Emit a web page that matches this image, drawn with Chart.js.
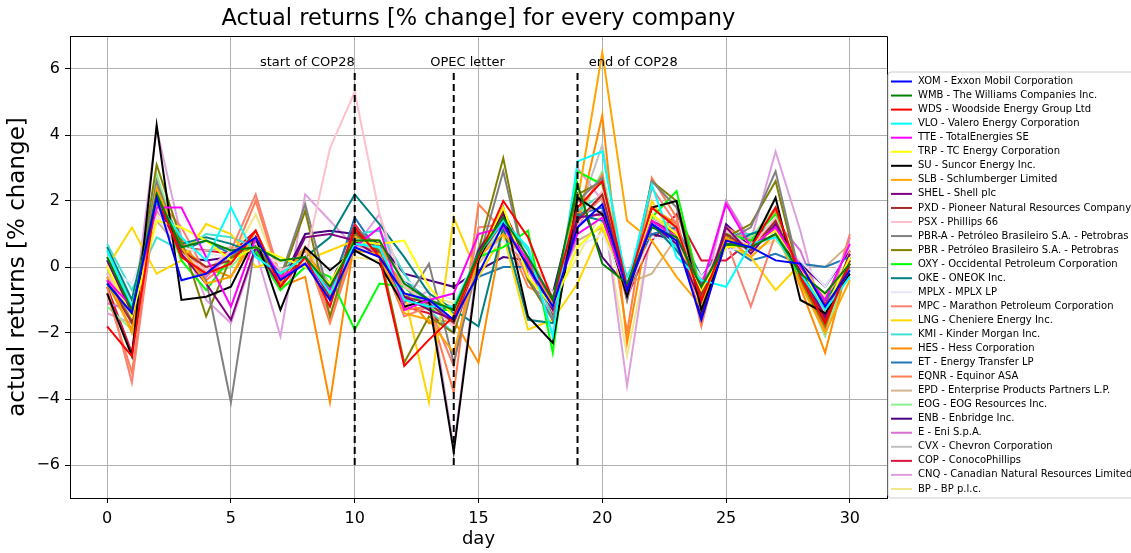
<!DOCTYPE html>
<html lang="en">
<head>
<meta charset="utf-8">
<script src="https://cdn.jsdelivr.net/npm/chart.js"></script>
<style>
  body { margin: 0; background: #fff; }
  #wrap { width: 1131px; height: 553px; }
</style>
</head>
<body>
<div id="wrap"><canvas id="myChart" width="1131" height="553"></canvas></div>
<script>
// --- data ---
const days = [0,1,2,3,4,5,6,7,8,9,10,11,12,13,14,15,16,17,18,19,20,21,22,23,24,25,26,27,28,29,30];
const xTicks = [0, 5, 10, 15, 20, 25, 30];
const yTicks = [-6, -4, -2, 0, 2, 4, 6];

const eventDays = [10, 14, 19];
const eventLabels = ['start of COP28', 'OPEC letter', 'end of COP28'];

const tickers = ['XOM','WMB','WDS','VLO','TTE','TRP','SU','SLB','SHEL','PXD','PSX','PBR-A','PBR','OXY','OKE',
  'MPLX','MPC','LNG','KMI','HES','ET','EQNR','EPD','EOG','ENB','E','CVX','COP','CNQ','BP'];
const names = ['Exxon Mobil Corporation','The Williams Companies Inc.','Woodside Energy Group Ltd','Valero Energy Corporation',
  'TotalEnergies SE','TC Energy Corporation','Suncor Energy Inc.','Schlumberger Limited','Shell plc',
  'Pioneer Natural Resources Company','Phillips 66','Petróleo Brasileiro S.A. - Petrobras','Petróleo Brasileiro S.A. - Petrobras',
  'Occidental Petroleum Corporation','ONEOK Inc.','MPLX LP','Marathon Petroleum Corporation','Cheniere Energy Inc.',
  'Kinder Morgan Inc.','Hess Corporation','Energy Transfer LP','Equinor ASA','Enterprise Products Partners L.P.',
  'EOG Resources Inc.','Enbridge Inc.','Eni S.p.A.','Chevron Corporation','ConocoPhillips',
  'Canadian Natural Resources Limited','BP p.l.c.'];
const colors = ['#0000ff','#008000','#ff0000','#00ffff','#ff00ff','#ffff00','#000000','#ffa500','#800080','#a52a2a',
  '#ffc0cb','#808080','#808000','#00ff00','#008080','#e6e6fa','#fa8072','#ffd700','#40e0d0','#ff8c00',
  '#1f77b4','#ff7f50','#d2b48c','#90ee90','#4b0082','#da70d6','#c0c0c0','#dc143c','#dda0dd','#f0e68c'];

const XOM  = [-0.5,-1.4,2.1,-0.4,-0.2,0.4,0.9,-0.4,0.1,-1.0,0.6,0.3,-0.8,-1.0,-1.6,-0.2,1.3,0.0,-1.2,1.2,1.9,-0.7,1.3,0.8,-1.6,0.8,0.6,0.2,0.1,-1.2,-0.1];
const WMB  = [0.3,-1.3,2.2,0.6,0.8,0.5,0.6,0.2,0.3,-0.6,0.8,0.8,-0.5,-1.0,-1.3,0.4,1.5,0.3,-1.0,2.5,0.1,-0.5,1.2,0.9,-0.6,0.7,0.6,1.0,-0.2,-0.8,0.1];
const WDS  = [-1.8,-2.7,2.2,0.3,-0.2,0.1,1.1,-0.6,0.3,-1.2,1.2,0.3,-3.0,-2.2,-1.5,0.3,2.0,0.9,-1.0,1.8,2.6,-0.6,1.8,1.2,-1.0,0.8,0.6,1.8,-0.3,-1.7,0.1];
const VLO  = [0.5,-1.2,2.0,0.9,0.2,1.8,0.3,-0.2,0.3,-0.8,0.7,0.6,-1.0,-1.2,-1.2,0.4,1.4,0.6,-2.1,3.2,3.5,-0.6,2.5,0.3,-0.4,-0.6,0.7,0.9,-0.2,-1.3,-0.3];
const TTE  = [-0.4,-1.2,1.8,1.8,0.3,-1.2,0.9,-0.3,0.1,-0.7,0.6,1.2,-1.3,-1.0,-0.8,1.0,1.2,0.2,-1.0,1.0,1.5,-0.7,1.4,0.9,-0.6,1.9,0.6,1.2,0.0,-1.0,0.7];
const TRP  = [0.0,-1.5,1.4,1.2,0.8,0.2,0.6,0.3,0.0,-0.5,0.8,0.7,0.8,-0.6,-1.5,0.3,1.8,-0.3,-1.2,0.6,1.3,-0.6,1.6,1.0,-0.7,0.6,0.7,1.1,0.0,-1.3,0.3];
const SU   = [-0.8,-2.7,4.3,-1.0,-0.9,-0.6,0.9,-1.3,0.6,-0.1,0.5,0.1,-1.2,-1.0,-5.6,0.2,1.8,-1.5,-2.3,2.1,1.6,-0.9,1.8,2.0,-1.3,0.7,0.6,2.1,-1.0,-1.4,-0.2];
const SLB  = [-0.3,-2.0,2.4,0.6,-0.5,-0.3,1.1,-0.5,0.6,-0.8,0.5,0.4,-1.4,-1.6,-2.6,0.3,1.0,0.2,-1.1,2.0,6.5,1.4,0.8,-0.3,-1.2,0.9,0.3,1.0,-0.5,-2.0,-0.4];
const SHEL = [0.2,-1.4,2.0,0.4,-0.5,-1.6,0.6,-0.6,0.9,1.0,0.8,0.3,-0.9,-1.3,-1.6,0.5,1.6,0.0,-1.3,1.5,1.6,-0.8,1.3,0.7,-1.1,1.2,0.4,1.3,-0.1,-1.5,0.4];
const PXD  = [-0.4,-1.7,2.1,0.5,0.0,0.2,0.9,-0.4,0.3,-0.9,1.1,0.4,-0.9,-1.1,-1.7,0.3,1.4,0.1,-1.2,1.4,2.2,-0.7,1.4,1.0,-0.8,1.0,0.5,1.4,-0.2,-1.6,0.2];
const PSX  = [-0.2,-1.5,1.8,0.4,-0.1,0.5,0.7,-0.1,0.2,3.6,5.3,1.6,-0.6,-1.1,-1.8,0.3,1.5,0.2,-1.3,1.3,2.3,-0.9,1.6,0.9,-0.7,1.1,0.6,1.5,-0.3,-1.4,0.3];
const PBR_A = [-0.2,-1.6,2.6,0.5,-0.4,-4.1,0.8,-0.3,1.9,-1.0,1.2,0.6,-1.1,0.1,-2.9,0.2,2.9,-0.3,-1.6,2.0,2.7,-1.0,2.6,1.8,-1.0,0.8,1.2,2.9,-0.3,-1.6,0.3];
const PBR  = [-0.3,-1.6,3.1,0.8,-1.5,0.3,0.7,-0.4,1.7,-1.5,1.0,0.5,-2.9,-1.5,-2.0,0.5,3.3,-0.4,-1.6,2.2,2.6,-0.8,2.6,2.0,-0.9,0.9,1.3,2.6,-0.4,-1.8,0.2];
const OXY  = [-0.5,-1.6,2.3,0.2,-0.7,0.3,0.5,-0.7,0.0,-0.3,-1.9,-0.5,-0.6,-1.3,-1.3,0.3,0.6,1.1,-2.6,2.9,2.5,-0.8,1.5,2.3,-0.8,1.0,0.8,1.6,-0.5,-1.5,0.1];
const OKE  = [0.6,-1.0,2.4,0.7,0.9,0.7,0.4,-0.1,0.3,0.9,2.2,1.3,0.3,-0.8,-1.3,-1.8,1.2,-1.6,-1.7,1.6,1.4,-0.7,1.3,0.5,-0.5,0.6,1.0,1.2,-0.3,-1.0,0.0];
const MPLX = [0.0,-0.5,1.5,0.6,0.4,0.3,0.5,0.1,0.4,-0.2,0.6,0.4,-0.4,-0.7,-1.0,0.3,0.8,0.2,-0.8,0.6,1.0,-0.7,0.9,0.8,-0.3,0.5,0.6,0.9,0.2,-0.6,0.6];
const MPC  = [-0.6,-3.5,2.1,1.2,-0.2,0.5,2.2,-0.3,0.6,-1.5,0.7,0.4,-1.5,-1.2,-3.0,1.2,1.3,-0.4,-1.0,1.4,2.1,-1.0,2.4,1.3,-0.9,0.8,-1.2,1.0,-0.1,-1.5,1.0];
const LNG  = [0.0,1.2,-0.2,0.2,1.3,1.0,0.0,0.2,0.2,0.5,0.8,0.3,-0.8,-4.1,1.5,-0.3,1.0,-1.9,-1.6,-0.5,1.2,-0.9,2.0,0.8,-1.0,0.7,0.3,-0.7,0.1,-1.0,0.2];
const KMI  = [0.7,-0.7,0.9,0.5,1.0,0.9,0.6,0.2,0.0,-0.6,1.0,1.1,-0.2,-1.3,-2.0,0.6,1.4,0.5,-1.6,1.7,2.2,-0.3,1.4,0.6,-0.7,1.0,1.0,1.3,-0.2,-1.0,-0.1];
const HES  = [-0.5,-1.9,1.9,0.6,0.0,-0.3,0.9,-0.6,-0.3,-4.1,0.9,0.8,-0.8,-1.7,-1.6,-2.9,1.2,0.2,-1.3,1.3,4.6,-2.3,1.8,1.3,-1.3,0.9,0.6,1.4,-0.6,-2.6,0.3];
const ET   = [0.2,-1.3,2.4,0.5,0.8,0.4,0.7,-0.4,0.3,-0.8,1.5,0.4,-0.4,-1.0,-1.4,-0.3,0.0,0.0,-0.9,1.6,1.8,-0.8,1.0,1.2,-0.3,0.7,0.2,0.4,0.1,0.0,0.3];
const EQNR = [-0.8,-3.2,2.0,0.9,-0.4,0.2,2.0,-0.4,0.5,-1.7,0.6,0.5,-1.3,-1.2,-3.8,1.9,1.1,-0.6,-1.0,1.6,2.8,-2.0,2.7,1.5,-1.8,1.2,0.8,1.7,-0.4,-1.9,0.5];
const EPD  = [0.3,-1.0,1.4,0.5,0.5,0.6,0.4,-0.1,0.1,-0.6,0.7,0.6,-0.6,-1.0,-1.2,0.1,1.0,0.3,-0.8,0.8,1.2,-0.5,-0.2,0.9,-0.4,0.6,0.7,0.9,0.1,0.0,0.7];
const EOG  = [-1.2,-1.9,2.8,0.5,-0.2,0.0,0.8,-0.3,0.2,-0.8,0.9,0.4,-0.9,-1.3,-1.2,0.2,1.2,0.3,-1.1,1.4,2.9,-0.8,1.5,1.2,-0.9,1.0,0.9,1.8,-0.3,-2.1,0.2];
const ENB  = [-0.6,-1.3,2.0,0.3,0.2,0.3,0.7,-0.5,1.0,1.1,1.0,0.7,-0.2,-0.4,-0.6,-0.1,0.3,0.2,-0.8,2.2,0.3,-0.6,1.0,0.8,-1.5,1.3,0.6,1.0,0.1,-0.6,0.5];
const E    = [-1.1,-1.3,1.7,0.8,-0.3,0.4,0.6,-0.2,0.3,-0.8,0.5,0.6,-0.6,-1.2,-1.6,0.5,1.3,-0.1,-1.3,1.3,1.7,-1.0,1.5,1.1,-0.8,2.0,0.7,1.4,0.5,-1.4,0.9];
const CVX  = [-0.1,-1.3,1.8,0.5,-0.2,0.3,0.8,-0.2,0.6,-0.5,0.7,0.5,-0.8,-1.1,-1.6,0.2,1.4,0.1,-1.2,1.5,3.7,-0.7,1.3,0.9,-0.6,0.9,0.7,1.2,-0.4,-1.4,0.0];
const COP  = [-0.6,-2.6,2.4,0.6,0.5,0.4,1.1,-0.5,0.5,-0.6,1.3,0.3,-1.2,-1.4,-2.0,0.4,1.7,0.2,-1.5,1.3,2.2,-0.9,0.8,1.6,0.2,0.2,0.8,1.1,-0.3,-1.1,0.1];
const CNQ  = [-1.4,-1.7,4.2,0.9,-1.0,-1.7,0.5,-2.1,2.2,1.4,0.6,1.6,-1.2,-0.7,-5.5,0.4,1.5,-0.4,-1.5,3.0,2.0,-3.6,1.3,1.4,-1.2,2.0,0.8,3.5,1.1,-1.8,0.4];
const BP   = [-0.9,-1.6,1.6,0.4,-0.1,0.2,1.6,-0.3,0.4,-0.8,0.3,0.2,-0.9,-0.9,-1.1,0.3,1.5,0.0,-1.0,0.3,1.7,-2.7,1.0,0.9,-0.7,1.1,0.5,0.8,0.0,-0.9,0.3];

const series = [XOM,WMB,WDS,VLO,TTE,TRP,SU,SLB,SHEL,PXD,PSX,PBR_A,PBR,OXY,OKE,MPLX,MPC,LNG,KMI,HES,ET,EQNR,EPD,EOG,ENB,E,CVX,COP,CNQ,BP];

const FONT = "'DejaVu Sans', sans-serif";
const minus = v => v < 0 ? '\u2212' + Math.abs(v) : String(v);

const datasets = series.map((vals, i) => ({
  label: tickers[i] + ' - ' + names[i],
  data: days.map((d, k) => ({ x: d, y: vals[k] })),
  borderColor: colors[i],
  backgroundColor: colors[i],
  borderWidth: 2,
  pointRadius: 0,
  tension: 0,
  fill: false
}));

// frame, event markers, title, legend box
const extras = {
  id: 'extras',
  afterDatasetsDraw(chart) {
    const { ctx, chartArea: a, scales: { x, y } } = chart;
    ctx.save();
    ctx.strokeStyle = '#000';
    ctx.lineWidth = 2;
    ctx.setLineDash([7, 4]);
    eventDays.forEach(d => {
      ctx.beginPath();
      ctx.moveTo(x.getPixelForValue(d), y.getPixelForValue(-6));
      ctx.lineTo(x.getPixelForValue(d), y.getPixelForValue(6));
      ctx.stroke();
    });
    ctx.setLineDash([]);
    ctx.fillStyle = '#000';
    ctx.font = '13px ' + FONT;
    ctx.textBaseline = 'alphabetic';
    ctx.textAlign = 'right';
    ctx.fillText(eventLabels[0], x.getPixelForValue(10), y.getPixelForValue(6.1));
    ctx.textAlign = 'left';
    ctx.fillText(eventLabels[1], x.getPixelForValue(13.05), y.getPixelForValue(6.1));
    ctx.fillText(eventLabels[2], x.getPixelForValue(19.45), y.getPixelForValue(6.1));

    // top and right spines
    ctx.lineWidth = 1;
    ctx.beginPath();
    ctx.moveTo(Math.round(a.left) + 0.5, Math.round(a.top) + 0.5);
    ctx.lineTo(Math.round(a.right) + 0.5, Math.round(a.top) + 0.5);
    ctx.lineTo(Math.round(a.right) + 0.5, Math.round(a.bottom) + 0.5);
    ctx.stroke();
    ctx.restore();
  },
  afterDraw(chart) {
    const { ctx, chartArea } = chart;
    ctx.save();
    ctx.fillStyle = '#000';
    ctx.font = '22.5px ' + FONT;
    ctx.textAlign = 'center';
    ctx.textBaseline = 'middle';
    ctx.fillText('Actual returns [% change] for every company', (chartArea.left + chartArea.right) / 2, 19);

    // legend
    const bx = 888, by = 72, bw = 260, bh = 426;
    ctx.beginPath();
    ctx.roundRect(bx, by, bw, bh, 3);
    ctx.fillStyle = 'rgba(255,255,255,0.85)';
    ctx.fill();
    ctx.strokeStyle = '#cccccc';
    ctx.lineWidth = 1;
    ctx.stroke();
    ctx.font = '10px ' + FONT;
    ctx.textAlign = 'left';
    ctx.textBaseline = 'middle';
    datasets.forEach((ds, i) => {
      const yy = 81.5 + i * 14.05;
      ctx.strokeStyle = ds.borderColor;
      ctx.lineWidth = 2;
      ctx.beginPath();
      ctx.moveTo(891, yy);
      ctx.lineTo(912, yy);
      ctx.stroke();
      ctx.fillStyle = '#000';
      ctx.fillText(ds.label, 918, yy);
    });
    ctx.restore();
  }
};

new Chart(document.getElementById('myChart'), {
  type: 'line',
  data: { datasets },
  options: {
    responsive: false,
    animation: false,
    devicePixelRatio: 1,
    layout: { padding: { top: 36, right: 244, left: 0, bottom: 0 } },
    plugins: { legend: { display: false }, tooltip: { enabled: false } },
    scales: {
      x: {
        type: 'linear',
        min: -1.5,
        max: 31.5,
        afterBuildTicks: s => { s.ticks = xTicks.map(v => ({ value: v })); },
        afterFit: s => { s.height = 55; },
        grid: { color: '#b0b0b0', lineWidth: 1, tickColor: '#000', tickLength: 5 },
        border: { color: '#000', width: 1 },
        ticks: { color: '#000', font: { family: FONT, size: 16 }, padding: 6, maxRotation: 0, callback: minus },
        title: { display: true, text: 'day', color: '#000', font: { family: FONT, size: 18 }, padding: { top: 0, bottom: 3 } }
      },
      y: {
        min: -7,
        max: 7,
        afterBuildTicks: s => { s.ticks = yTicks.map(v => ({ value: v })); },
        afterFit: s => { s.width = 70; },
        grid: { color: '#b0b0b0', lineWidth: 1, tickColor: '#000', tickLength: 5 },
        border: { color: '#000', width: 1 },
        ticks: { color: '#000', font: { family: FONT, size: 16 }, padding: 5, callback: minus },
        title: { display: true, text: 'actual returns [% change]', color: '#000', font: { family: FONT, size: 23 }, padding: { top: 4, bottom: 0 } }
      }
    }
  },
  plugins: [extras]
});
</script>
</body>
</html>
